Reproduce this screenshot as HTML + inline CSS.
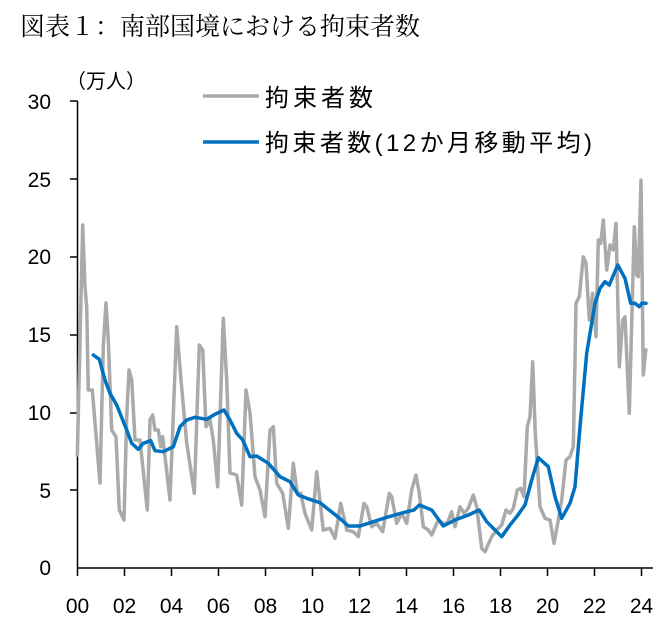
<!DOCTYPE html>
<html><head><meta charset="utf-8"><style>
body{margin:0;background:#fff;width:663px;height:623px;overflow:hidden}
svg text{font-family:"Liberation Sans","Noto Sans CJK JP",sans-serif;fill:#000}
</style></head><body>
<svg width="663" height="623" xmlns="http://www.w3.org/2000/svg">
<text x="20" y="35" style="font-family:'Liberation Serif','Noto Serif CJK SC',serif;font-size:25px">図表１：南部国境における拘束者数</text>
<text x="66" y="88" font-size="20">（万人）</text>
<g font-size="21" text-anchor="end">
<text x="51" y="575">0</text><text x="51" y="498">5</text><text x="51" y="420">10</text>
<text x="51" y="342">15</text><text x="51" y="264">20</text><text x="51" y="187">25</text><text x="51" y="109">30</text>
</g>
<g font-size="21" text-anchor="middle">
<text x="77.5" y="613">00</text><text x="124.5" y="613">02</text><text x="171.5" y="613">04</text>
<text x="218.5" y="613">06</text><text x="265.5" y="613">08</text><text x="312.5" y="613">10</text>
<text x="359.5" y="613">12</text><text x="406.5" y="613">14</text><text x="453.5" y="613">16</text>
<text x="500.5" y="613">18</text><text x="547.5" y="613">20</text><text x="594.5" y="613">22</text>
<text x="641.5" y="613">24</text>
</g>
<g stroke="#000" stroke-width="1.5" fill="none">
<line x1="77.5" y1="101" x2="77.5" y2="568"/>
<line x1="70" y1="101" x2="77.5" y2="101"/><line x1="70" y1="179" x2="77.5" y2="179"/>
<line x1="70" y1="257" x2="77.5" y2="257"/><line x1="70" y1="335" x2="77.5" y2="335"/>
<line x1="70" y1="413" x2="77.5" y2="413"/><line x1="70" y1="490" x2="77.5" y2="490"/>
<line x1="77.5" y1="568" x2="653" y2="568"/>
<path d="M77.5 568v8M124.5 568v8M171.5 568v8M218.5 568v8M265.5 568v8M312.5 568v8M359.5 568v8M406.5 568v8M453.5 568v8M500.5 568v8M547.5 568v8M594.5 568v8M641.5 568v8"/>
</g>
<polyline fill="none" stroke="#aaaaaa" stroke-width="3.5" stroke-linejoin="round" points="77.3,456.7 82.7,225 85,286.7 86.7,306.7 88.3,390 92.3,390 100,483 103.3,346.7 106,303 108.3,340 111.7,430 116,436.7 119.3,510 124,520 126.7,416.7 129,370 131.7,380 135,440 140,440 147.3,510 150,420 152.7,415 155,430 158.3,430 160.7,446.7 162.7,436.7 170,500 176.7,326.7 180.7,376.7 186.7,443 194.3,493.3 199.3,345 202.7,350 206,426.7 210,420 213.3,440 217.7,486.7 223.3,318.3 226.7,380 230,473 236.7,475 241.7,505 246,390 250,413 255,476.7 260,490 265,516.7 270,430 273.3,426.7 276.7,483.3 282.7,493.3 288.3,528.3 293.3,463.3 297.3,493.3 300.7,493.3 305,513.3 311.7,530 316.7,471.7 323.3,530 330,528.3 335,538.3 340.7,503.3 346.7,530 353.3,531.7 358.3,536.7 364,503.3 366.7,506.7 371.7,526.7 376.7,523.3 382.7,531.7 389.3,493.3 391.7,496.7 396.7,523.3 401.7,513.3 406.7,523.3 411.7,490 416,475 419.3,493.3 423.3,526.7 428.3,530 431.7,535 438.3,520 443.3,523.3 447.3,523.3 451.7,511.7 455,526.7 460,506.7 464,513.3 468.3,508.3 473.3,495 476.7,506.7 481.7,548.3 485,551.7 491.7,536.7 496.7,530 501.7,525 506,510 510,513.3 513.3,508.3 517.3,490 520.7,488.3 524,496.7 527.3,426.7 530,416.7 532.7,361.7 535.3,433.3 540,506.7 545,518.3 550,520 554,543.3 558.3,520 561.7,500 566,460 570,456.7 573.3,446.7 575,360 576,303.3 579.3,296.7 583.3,256.7 586,263.3 589.3,320 592.7,293.3 596,336.7 598.3,240 600.7,243.3 603.3,220 606.7,270 610,245 613.3,250 616,223.3 619.3,366.7 622.7,320 625,316.7 629.3,413.3 631.7,323.3 634.3,226.7 636.7,275 638.3,276.7 641,180 643.3,375 646,348.3"/>
<polyline fill="none" stroke="#0070c0" stroke-width="3.5" stroke-linejoin="round" stroke-linecap="round" points="93.3,355 99.3,359.3 105,380 110,393.3 116.7,405 126.7,430 131.7,443.3 138.3,449.3 143.3,443.3 150.7,440.7 155,450.7 163.3,451.7 173.3,446.7 180,426.7 186.7,420 195,417.3 206.7,419.3 215,414.3 224,410 230,420 236.7,433.3 242.7,440 250,456.7 256.7,456 268.3,463.3 280,476.7 290,481.7 298.3,495 306.7,498.3 320,502.7 333.3,513.3 341.7,520 348.3,526 360,526 373.3,521.7 386.7,517.3 406.7,511.7 414,510 419.3,505 431.7,510 443.3,526 455,520 468.3,515 479.3,510 486.7,521.7 501.7,536.7 510,525 516.7,516.7 525,505 531.7,480 538.3,457.7 548.3,466.7 555,496.7 561.7,518.3 570,503.3 575,486.7 580,426.7 586.7,353.3 595,303.3 600,288.3 605,281.7 609.3,285 617.7,265 625,278.3 630.7,303.3 635,303.3 639.3,306.7 641.7,303.3 646,303.3"/>
<line x1="203" y1="96" x2="259" y2="96" stroke="#aaaaaa" stroke-width="3.5"/>
<text x="265" y="106" font-size="24" textLength="108" lengthAdjust="spacing">拘束者数</text>
<line x1="203" y1="142" x2="259" y2="142" stroke="#0070c0" stroke-width="3.5"/>
<text x="265" y="151" font-size="24" textLength="327" lengthAdjust="spacing">拘束者数(12か月移動平均)</text>
</svg>
</body></html>
